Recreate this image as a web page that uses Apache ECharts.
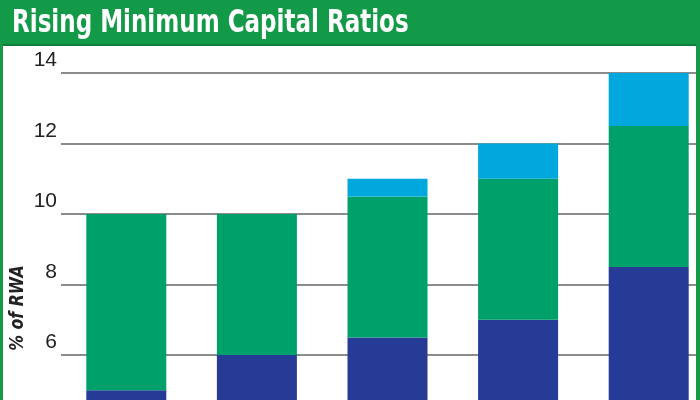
<!DOCTYPE html>
<html>
<head>
<meta charset="utf-8">
<script src="https://cdn.jsdelivr.net/npm/echarts@6/dist/echarts.min.js"></script>
<style>
html,body{margin:0;padding:0;background:#fff;}
#c{width:700px;height:400px;}
</style>
</head>
<body>
<div id="c"></div>
<script>
var categories = ['1', '2', '3', '4', '5'];
var coreValues = [5, 6, 6.5, 7, 8.5];
var middleValues = [5, 4, 4, 4, 4];
var topValues = [0, 0, 0.5, 1, 1.5];
var yTicks = [4, 6, 8, 10, 12, 14];

var FONT = '"Liberation Sans Narrow", "DejaVu Sans Condensed", "Liberation Sans", sans-serif';
var chart = echarts.init(document.getElementById('c'));
chart.setOption({
  animation: false,
  backgroundColor: '#fff',
  grid: { left: 61, top: 73, width: 653, height: 352.5, containLabel: false, outerBoundsMode: 'none' },
  xAxis: {
    type: 'category', data: categories,
    axisLine: { show: false }, axisTick: { show: false }, axisLabel: { show: false }
  },
  yAxis: {
    type: 'value', min: yTicks[0], max: yTicks[yTicks.length - 1], interval: 2,
    axisLine: { show: false }, axisTick: { show: false },
    splitLine: { lineStyle: { color: '#8c8c8c', width: 2 } },
    axisLabel: {
      color: '#222', fontFamily: '"Liberation Sans", sans-serif', fontSize: 21, margin: 4,
      verticalAlign: 'bottom', padding: [0, 0, 2, 0]
    }
  },
  series: [
    { type: 'bar', stack: 's', data: coreValues, barWidth: 80, itemStyle: { color: '#253b96' } },
    { type: 'bar', stack: 's', data: middleValues, barWidth: 80, itemStyle: { color: '#00a06a' } },
    { type: 'bar', stack: 's', data: topValues, barWidth: 80, itemStyle: { color: '#00a8de' } }
  ],
  graphic: [
    { type: 'rect', z: -1, shape: { x: 0, y: 0, width: 700, height: 45 }, style: { fill: '#139a48' } },
    { type: 'rect', z: 100, shape: { x: 0, y: 44, width: 700, height: 2 }, style: { fill: '#0d7f3a' } },
    { type: 'rect', z: 100, shape: { x: 0, y: 44, width: 3, height: 356 }, style: { fill: '#139a48' } },
    { type: 'rect', z: 100, shape: { x: 696, y: 44, width: 4, height: 356 }, style: { fill: '#139a48' } },
    { type: 'text', z: 100, x: 12, y: 24, scaleX: 0.8,
      style: { text: 'Rising Minimum Capital Ratios', fill: '#fff', font: 'bold 32px ' + FONT, align: 'left', verticalAlign: 'middle' } },
    { type: 'text', z: 100, x: 18, y: 308, rotation: Math.PI / 2, scaleX: 0.92,
      style: { text: '% of RWA', fill: '#222', font: 'italic bold 19px ' + FONT, align: 'center', verticalAlign: 'middle' } }
  ]
});
</script>
</body>
</html>
